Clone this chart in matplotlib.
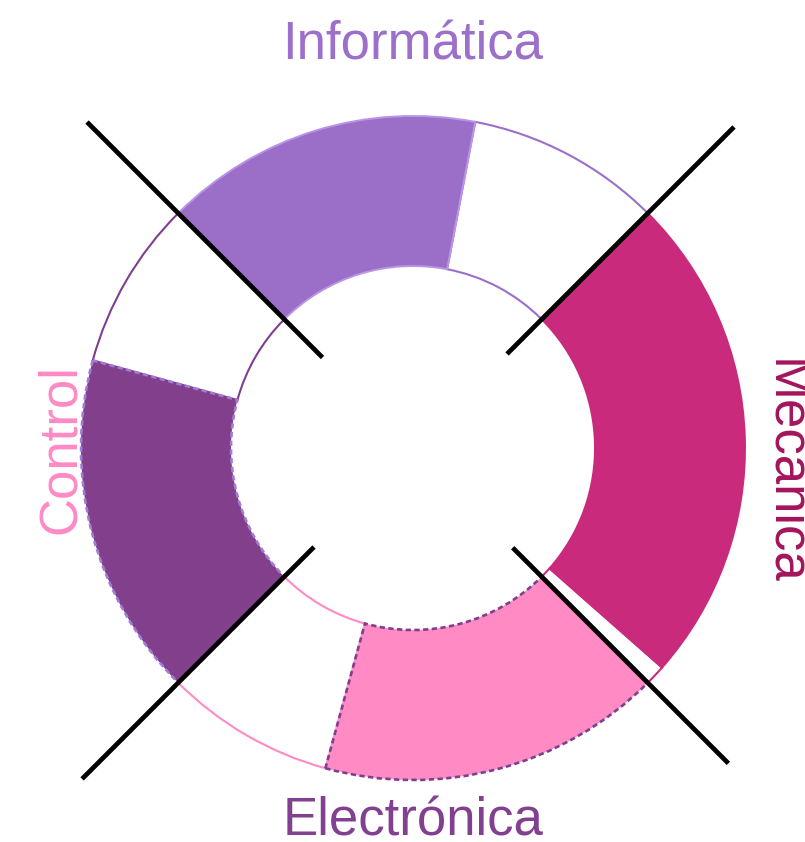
import math
import matplotlib
matplotlib.use("Agg")
import matplotlib.pyplot as plt
from matplotlib.patches import Wedge

# ---- data ----
categories = ["Informática", "Mecanica", "Electrónica", "Control"]
values = [0.62, 0.96, 0.67, 0.67]          # filled share of each quadrant
quadrant_start = [45, -45, -135, 135]      # degrees (ccw), where the white part begins
fill_colors = ["#9b6fc8", "#c92a7b", "#ff8ac4", "#823f8c"]
fill_edges = ["#b994e8", "#c92a7b", "#7f3f8f", "#a27bd6"]
fill_styles = ["solid", "solid", (0, (2, 1.3)), (0, (2, 1.3))]
white_edges = ["#9b6fca", "#c92a7b", "#ff8ac4", "#7f3f8f"]
label_colors = ["#9b6fca", "#a3145c", "#824090", "#ff8ac4"]

W, H = 805, 842
fig = plt.figure(figsize=(W / 100, H / 100), dpi=100)
ax = fig.add_axes([0, 0, 1, 1])
ax.set_xlim(0, W)
ax.set_ylim(0, H)
ax.set_aspect("equal")
ax.axis("off")

cx, cy = 413, H - 448
R_out, R_in = 332, 182

for v, s, we in zip(values, quadrant_start, white_edges):
    split = s + (1 - v) * 90
    ax.add_patch(Wedge((cx, cy), R_out, s, split, width=R_out - R_in,
                       facecolor="white", edgecolor=we, lw=1.5, zorder=2))
for v, s, fc, fe, fs in zip(values, quadrant_start, fill_colors,
                            fill_edges, fill_styles):
    split = s + (1 - v) * 90
    lw = 1.9 if fs != "solid" else 1.4
    ax.add_patch(Wedge((cx, cy), R_out, split, s + 90, width=R_out - R_in,
                       facecolor=fc, edgecolor=fe, lw=lw, linestyle=fs,
                       zorder=3))

# divider lines (angle, inner r, outer r)
dividers = [(135, 128, 461), (45, 133, 454), (-45, 141, 446), (-135, 140, 468)]
for ang, r0, r1 in dividers:
    a = math.radians(ang)
    ax.plot([cx + r0 * math.cos(a), cx + r1 * math.cos(a)],
            [cy + r0 * math.sin(a), cy + r1 * math.sin(a)],
            color="black", lw=3.4, solid_capstyle="butt", zorder=5)

font = dict(family=["Liberation Sans", "DejaVu Sans"], fontsize=38)
ax.text(413, H - 60, categories[0], color=label_colors[0], ha="center",
        va="baseline", **font)
ax.text(771, H - 472, categories[1], color=label_colors[1], ha="center",
        va="baseline", rotation=-90, rotation_mode="anchor", **font)
ax.text(413, H - 835, categories[2], color=label_colors[2], ha="center",
        va="baseline", **font)
ax.text(75, H - 449, categories[3], color=label_colors[3], ha="center",
        va="baseline", rotation=90, rotation_mode="anchor", **font)

fig.savefig("out.png", dpi=100)
